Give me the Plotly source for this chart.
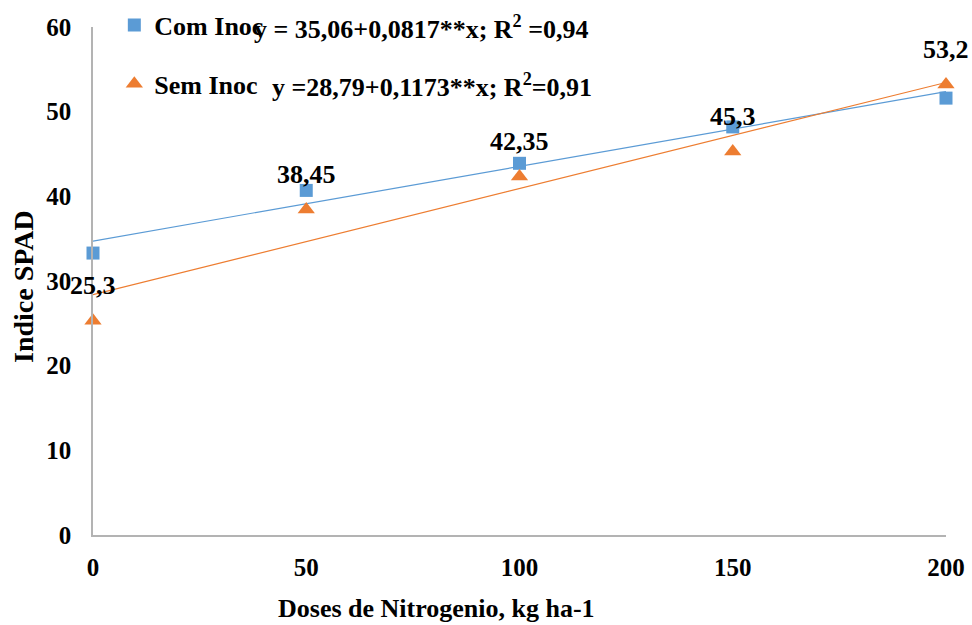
import numpy as np
import plotly.graph_objects as go

doses = [0, 50, 100, 150, 200]
com_inoc = [33.3, 40.7, 43.9, 48.2, 51.6]
sem_inoc = [25.3, 38.45, 42.35, 45.3, 53.2]
sem_labels = ["25,3", "38,45", "42,35", "45,3", "53,2"]
com_eq = "y = 35,06+0,0817**x; R<sup>2</sup> =0,94"
sem_eq = "y =28,79+0,1173**x; R<sup>2</sup>=0,91"
y_ticks = [0, 10, 20, 30, 40, 50, 60]
x_ticks = [0, 50, 100, 150, 200]

BLUE = "#5B9BD5"
ORANGE = "#ED7D31"
FONT = "Liberation Serif"
TS = 26

fig = go.Figure()
trend_x = np.array([doses[0], doses[-1]], dtype=float)
for ys, col in ((com_inoc, BLUE), (sem_inoc, ORANGE)):
    slope, icpt = np.polyfit(doses, ys, 1)
    fig.add_trace(go.Scatter(x=trend_x, y=icpt + slope * trend_x, mode="lines",
                             line=dict(color=col, width=1.2), showlegend=False, hoverinfo="skip"))
fig.add_trace(go.Scatter(x=doses, y=com_inoc, mode="markers", name="<b>Com Inoc</b>",
                         marker=dict(symbol="square", size=13, color=BLUE), legendgroup="a",
                         cliponaxis=False))
fig.add_trace(go.Scatter(x=doses, y=sem_inoc, mode="markers", name="<b>Sem Inoc</b>",
                         marker=dict(symbol="triangle-up", size=15, color=ORANGE), legendgroup="b",
                         cliponaxis=False))

for xv, yv, lab in zip(doses, sem_inoc, sem_labels):
    fig.add_annotation(x=xv, y=yv, text=f"<b>{lab}</b>", showarrow=False, yshift=35,
                       font=dict(family=FONT, size=TS, color="black"))

fig.add_annotation(xref="paper", yref="paper", x=(252 - 93) / 853, y=1.0, xanchor="left", yanchor="middle",
                   text=f"<b>{com_eq}</b>", showarrow=False, font=dict(family=FONT, size=TS, color="black"))
fig.add_annotation(xref="paper", yref="paper", x=(270 - 93) / 853, y=(535 - 85) / 508, xanchor="left", yanchor="middle",
                   text=f"<b>{sem_eq}</b>", showarrow=False, font=dict(family=FONT, size=TS, color="black"))

fig.add_annotation(xref="paper", yref="paper", x=(436 - 93) / 853, y=-(608 - 535) / 508, xanchor="center",
                   yanchor="middle", text="<b>Doses de Nitrogenio, kg ha-1</b>", showarrow=False,
                   font=dict(family=FONT, size=TS, color="black"))
fig.add_annotation(xref="paper", yref="paper", x=-(93 - 23) / 853, y=(535 - 287) / 508, xanchor="center",
                   yanchor="middle", textangle=-90, text="<b>Indice SPAD</b>", showarrow=False,
                   font=dict(family=FONT, size=28, color="black"))

fig.update_layout(
    width=972, height=625,
    margin=dict(l=93, r=26, t=27, b=90, autoexpand=False),
    plot_bgcolor="white", paper_bgcolor="white",
    font=dict(family=FONT, size=25, color="black"),
    legend=dict(x=0.025, y=1.05, xanchor="left", yanchor="top", bgcolor="rgba(0,0,0,0)",
                tracegroupgap=22, font=dict(family=FONT, size=TS, color="black"),
                itemsizing="trace"),
    showlegend=True,
)
fig.update_xaxes(range=[0, 200], tickvals=x_ticks, ticktext=[f"<b>{v}</b>" for v in x_ticks],
                 showgrid=False, zeroline=False, showline=True, linecolor="#B3B3B3", linewidth=1.5,
                 ticks="", ticklabelstandoff=9)
fig.update_yaxes(range=[0, 60], tickvals=y_ticks, ticktext=[f"<b>{v}</b>" for v in y_ticks],
                 showgrid=False, zeroline=False, showline=True, linecolor="#B3B3B3", linewidth=1.5,
                 ticks="", ticklabelstandoff=15)

fig.write_html("out.html")
